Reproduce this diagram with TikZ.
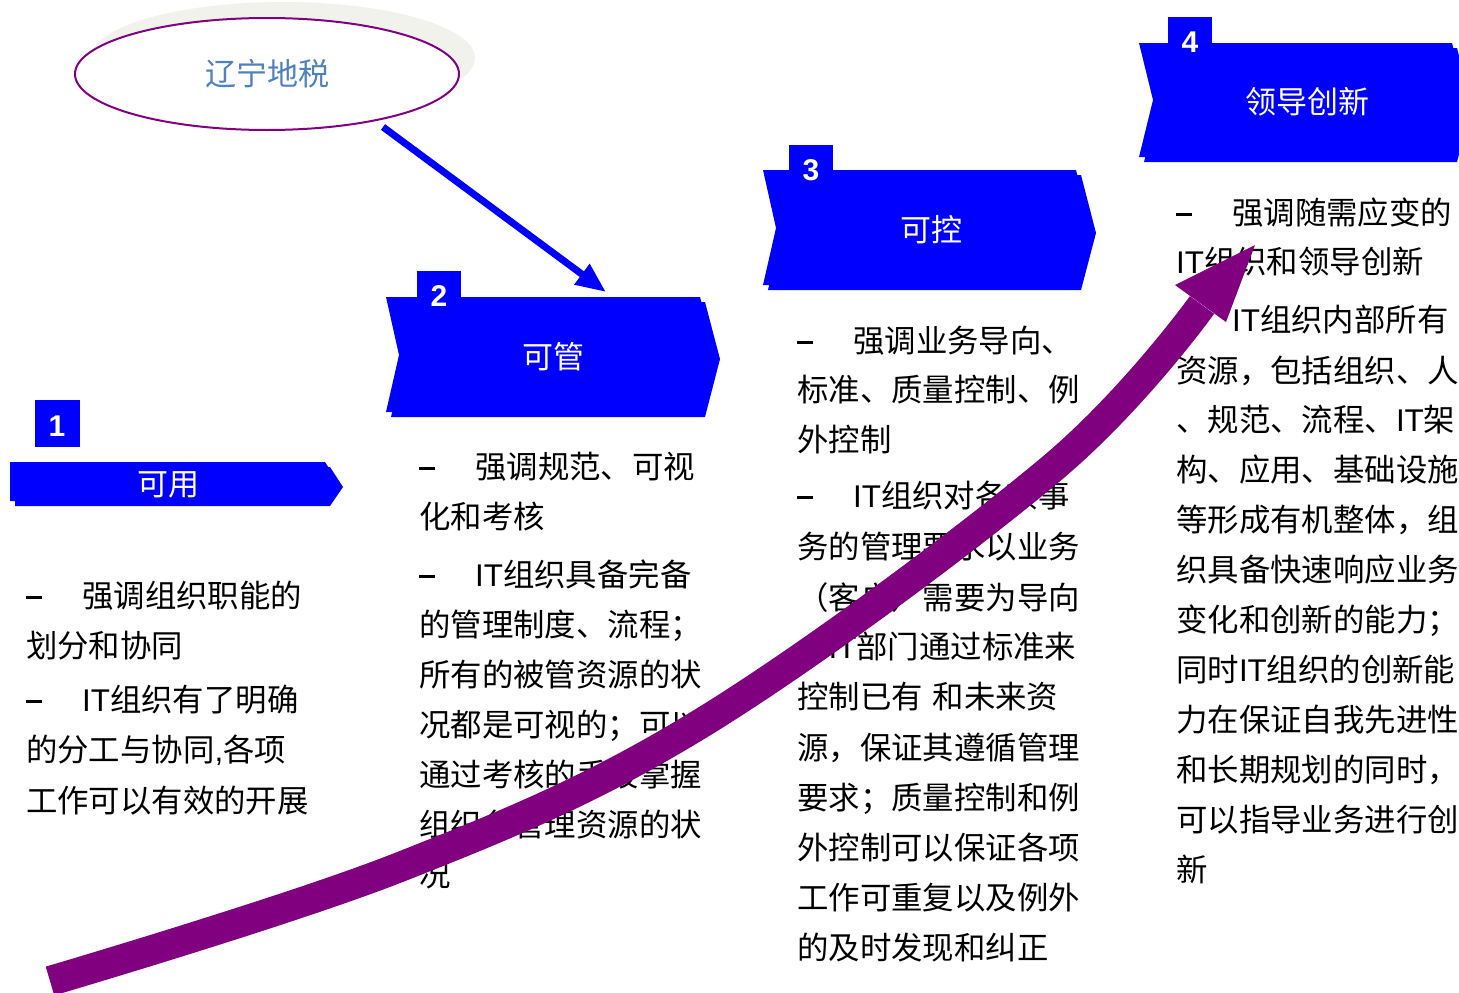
\documentclass[tikz,border=0pt]{standalone}
\usepackage{fontspec}
\newfontfamily\cjk{Noto Sans CJK SC}
\newfontfamily\latfont{Liberation Sans}
\usetikzlibrary{shapes.geometric,arrows.meta}
\definecolor{arrowpurple}{RGB}{128,0,128}
\definecolor{titleblue}{RGB}{79,129,189}
\definecolor{shadowgray}{RGB}{242,242,237}
\definecolor{bannerblue}{RGB}{0,0,255}
\newcommand\ITx{{\latfont IT}}
\newcommand\Ln[4]{\node[body] (#1) at (#2,{#3+11}) {#4};}
\newcommand\Dl[4]{\node[body] (#1) at (#2,{#3+11}) {\makebox[56pt][l]{\rule[8.5pt]{16pt}{2.2pt}}#4};}
\begin{document}
\begin{tikzpicture}[x=1pt,y=-1pt,
  body/.style={anchor=base west,inner sep=0pt,font=\cjk\fontsize{31.4pt}{36pt}\selectfont,text=black},
  bannertext/.style={text=white,inner sep=0pt,font=\cjk\fontsize{31pt}{36pt}\selectfont},
  numtext/.style={text=white,inner sep=0pt,font=\latfont\bfseries\fontsize{30pt}{34pt}\selectfont},
  titlestyle/.style={ellipse,draw=arrowpurple,line width=2pt,fill=white,minimum width=384pt,minimum height=112pt,inner sep=0pt,text=titleblue,font=\cjk\fontsize{31pt}{36pt}\selectfont},
  bluearrow/.style={draw=bannerblue,line width=7pt,-{Triangle[length=30pt,width=24pt]}},
  bigarrow/.style={draw=arrowpurple,line width=30pt},
]
\useasboundingbox (0,0) rectangle (1459,993);
\clip (0,0) rectangle (1459,993);
\fill[white] (0,0) rectangle (1459,993);

% title ellipse with shadow
\fill[shadowgray] (283,58) ellipse [x radius=192pt, y radius=56pt];
\node[titlestyle] (title) at (267,74) {\raisebox{-2.5pt}{辽宁地税}};

% blue arrow from title to stage 2
\coordinate (bs) at (383,127);
\coordinate (be) at (606,292);
\draw[bluearrow] (bs) -- (be);

% banner 1
\fill[bannerblue] (15,467) -- (330,467) -- (343,487) -- (330,506) -- (15,506) -- cycle;
\fill[bannerblue] (10,462) -- (325,462) -- (338,482) -- (325,501) -- (10,501) -- cycle;
\fill[bannerblue] (35,400) rectangle (80,447);
\node[numtext] (n1) at (57,426) {1};
\node[bannertext] (b1) at (168,485) {可用};

% banner 2
\fill[bannerblue] (391,302) -- (705,302) -- (720,359) -- (705,417) -- (391,417) -- (404,360) -- cycle;
\fill[bannerblue] (386,297) -- (700,297) -- (715,354) -- (700,412) -- (386,412) -- (399,355) -- cycle;
\fill[bannerblue] (417,271) rectangle (461,298);
\node[numtext] (n2) at (439,296) {2};
\node[bannertext] (b2) at (553,357) {可管};

% banner 3
\fill[bannerblue] (768,175) -- (1081,175) -- (1096,233) -- (1081,290) -- (768,290) -- (781,233) -- cycle;
\fill[bannerblue] (763,170) -- (1076,170) -- (1091,228) -- (1076,285) -- (763,285) -- (776,228) -- cycle;
\fill[bannerblue] (789,145) rectangle (833,171);
\node[numtext] (n3) at (811,170) {3};
\node[bannertext] (b3) at (931,230) {可控};

% banner 4
\fill[bannerblue] (1144,48) -- (1457,48) -- (1472,105) -- (1457,162) -- (1144,162) -- (1158,105) -- cycle;
\fill[bannerblue] (1139,43) -- (1452,43) -- (1467,100) -- (1452,157) -- (1139,157) -- (1153,100) -- cycle;
\fill[bannerblue] (1168,17) rectangle (1212,44);
\node[numtext] (n4) at (1190,42) {4};
\node[bannertext] (b4) at (1307,102) {领导创新};

% column 1
\Dl{c1a}{26}{596}{强调组织职能的}
\Ln{c1b}{26}{646}{划分和协同}
\Dl{c1c}{26}{700}{\ITx 组织有了明确}
\Ln{c1d}{26}{750}{的分工与协同{\latfont ,}各项}
\Ln{c1e}{26}{801}{工作可以有效的开展}

% column 2
\Dl{c2a}{419}{467}{强调规范、可视}
\Ln{c2b}{419}{517}{化和考核}
\Dl{c2c}{419}{575}{\ITx 组织具备完备}
\Ln{c2d}{419}{625}{的管理制度、流程；}
\Ln{c2e}{419}{675}{所有的被管资源的状}
\Ln{c2f}{419}{725}{况都是可视的；可以}
\Ln{c2g}{419}{775}{通过考核的手段掌握}
\Ln{c2h}{419}{825}{组织各管理资源的状}
\Ln{c2i}{419}{875}{况}

% column 3
\Dl{c3a}{797}{341}{强调业务导向、}
\Ln{c3b}{797}{390}{标准、质量控制、例}
\Ln{c3c}{797}{440}{外控制}
\Dl{c3d}{797}{496}{\ITx 组织对各项事}
\Ln{c3e}{797}{547}{务的管理要求以业务}
\Ln{c3f}{797}{598}{（客户）需要为导向}
\Ln{c3g}{797}{647}{；\ITx 部门通过标准来}
\Ln{c3h}{797}{697}{控制已有\hspace{10pt}和未来资}
\Ln{c3i}{797}{748}{源，保证其遵循管理}
\Ln{c3j}{797}{798}{要求；质量控制和例}
\Ln{c3k}{797}{848}{外控制可以保证各项}
\Ln{c3l}{797}{898}{工作可重复以及例外}
\Ln{c3m}{797}{948}{的及时发现和纠正}

% column 4
\Dl{c4a}{1176}{213}{强调随需应变的}
\Ln{c4b}{1176}{262}{\ITx 组织和领导创新}
\Dl{c4c}{1176}{320}{\ITx 组织内部所有}
\Ln{c4d}{1176}{371}{资源，包括组织、人}
\Ln{c4e}{1176}{420}{、规范、流程、\ITx 架}
\Ln{c4f}{1176}{470}{构、应用、基础设施}
\Ln{c4g}{1176}{520}{等形成有机整体，组}
\Ln{c4h}{1176}{570}{织具备快速响应业务}
\Ln{c4i}{1176}{620}{变化和创新的能力；}
\Ln{c4j}{1176}{670}{同时\ITx 组织的创新能}
\Ln{c4k}{1176}{720}{力在保证自我先进性}
\Ln{c4l}{1176}{770}{和长期规划的同时，}
\Ln{c4m}{1176}{820}{可以指导业务进行创}
\Ln{c4n}{1176}{870}{新}

% big purple growth arrow
\coordinate (ps) at (50,981);
\coordinate (pe) at (1202,305);
\coordinate (ptip) at (1255,245);
\coordinate (pbl) at (1175,285);
\coordinate (pbr) at (1226,322);
\draw[bigarrow] plot[smooth,tension=0.6] coordinates {(50,981) (400,867) (700,724) (1050,470) (1202,305)};
\fill[arrowpurple] (ptip) -- (pbl) -- (pbr) -- cycle;
\end{tikzpicture}
\end{document}
